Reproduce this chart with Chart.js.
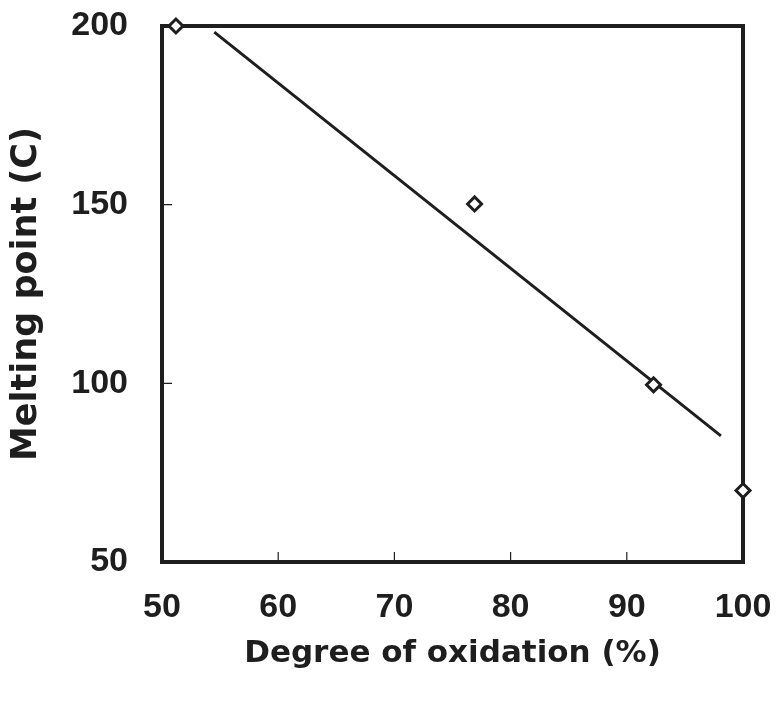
<!DOCTYPE html>
<html>
<head>
<meta charset="utf-8">
<script src="https://cdn.jsdelivr.net/npm/chart.js@4/dist/chart.umd.min.js"></script>
<style>
  html, body { margin: 0; padding: 0; background: #fff; }
  #wrap { width: 778px; height: 701px; }
</style>
</head>
<body>
<div id="wrap"><canvas id="myChart"></canvas></div>
<script>
"use strict";

// measured points
var oxidation = [51.2, 76.9, 92.3, 100];
var meltingPoint = [200, 150.2, 99.6, 70];

// fitted line end points
var fitX = [54.5, 98.1];
var fitY = [198.3, 85.3];

var xTicks = [50, 60, 70, 80, 90, 100];
var yTicks = [50, 100, 150, 200];

var ink = '#1e1e1e';
var tickFont = "'Liberation Sans', Arial, sans-serif";
var titleFont = "'DejaVu Sans', sans-serif";

function toPoints(xs, ys) {
  var out = [];
  for (var i = 0; i < xs.length; i++) {
    out.push({x: xs[i], y: ys[i]});
  }
  return out;
}

// short ticks pointing into the plot (bottom and left only) plus the frame
var innerTicks = {
  id: 'innerTicks',
  beforeDatasetsDraw: function(chart) {
    var ctx = chart.ctx;
    var area = chart.chartArea;
    var xs = chart.scales.x, ys = chart.scales.y;
    ctx.save();
    ctx.strokeStyle = ink;
    ctx.lineWidth = 1.2;
    ctx.beginPath();
    xTicks.forEach(function(v) {
      if (v === xs.min || v === xs.max) return;
      var px = xs.getPixelForValue(v);
      ctx.moveTo(px, area.bottom);
      ctx.lineTo(px, area.bottom - 10);
    });
    yTicks.forEach(function(v) {
      if (v === ys.min || v === ys.max) return;
      var py = ys.getPixelForValue(v);
      ctx.moveTo(area.left, py);
      ctx.lineTo(area.left + 10, py);
    });
    ctx.stroke();
    ctx.lineWidth = 4;
    ctx.strokeRect(area.left, area.top, area.right - area.left, area.bottom - area.top);
    ctx.restore();
  }
};

var ctx = document.getElementById('myChart').getContext('2d');
var chart = new Chart(ctx, {
  type: 'scatter',
  data: {
    datasets: [{
      label: 'fit',
      data: toPoints(fitX, fitY),
      showLine: true,
      borderColor: ink,
      borderWidth: 3,
      pointRadius: 0,
      order: 2
    }, {
      label: 'measured',
      data: toPoints(oxidation, meltingPoint),
      pointStyle: 'rectRot',
      pointRadius: 7,
      pointBorderWidth: 3,
      pointBackgroundColor: '#fff',
      pointBorderColor: ink,
      order: 1
    }]
  },
  plugins: [innerTicks],
  options: {
    responsive: true,
    maintainAspectRatio: false,
    animation: false,
    clip: false,
    layout: { padding: { top: 26, right: 35, left: 0, bottom: 0 } },
    plugins: {
      legend: { display: false },
      tooltip: { enabled: false }
    },
    scales: {
      x: {
        type: 'linear',
        min: 50,
        max: 100,
        afterBuildTicks: function(scale) {
          scale.ticks = xTicks.map(function(v) { return {value: v}; });
        },
        afterFit: function(scale) {
          scale.height = 139;
          scale.paddingLeft = 0;
          scale.paddingRight = 0;
        },
        grid: { display: false, drawTicks: false },
        border: { display: false },
        ticks: {
          color: ink,
          padding: 25,
          font: { family: tickFont, size: 34, weight: 'bold' }
        },
        title: {
          display: true,
          text: 'Degree of oxidation (%)',
          color: ink,
          padding: { top: 0, bottom: 28 },
          font: { family: titleFont, size: 31, weight: 'bold' }
        }
      },
      y: {
        type: 'linear',
        min: 50,
        max: 200,
        afterBuildTicks: function(scale) {
          scale.ticks = yTicks.map(function(v) { return {value: v}; });
        },
        afterFit: function(scale) {
          scale.width = 162;
          scale.paddingTop = 0;
          scale.paddingBottom = 0;
        },
        grid: { display: false, drawTicks: false },
        border: { display: false },
        ticks: {
          color: ink,
          padding: 34,
          font: { family: tickFont, size: 34, weight: 'bold' }
        },
        title: {
          display: true,
          text: 'Melting point (C)',
          color: ink,
          padding: { top: 6, bottom: 0 },
          font: { family: titleFont, size: 35, weight: 'bold' }
        }
      }
    }
  }
});
</script>
</body>
</html>
